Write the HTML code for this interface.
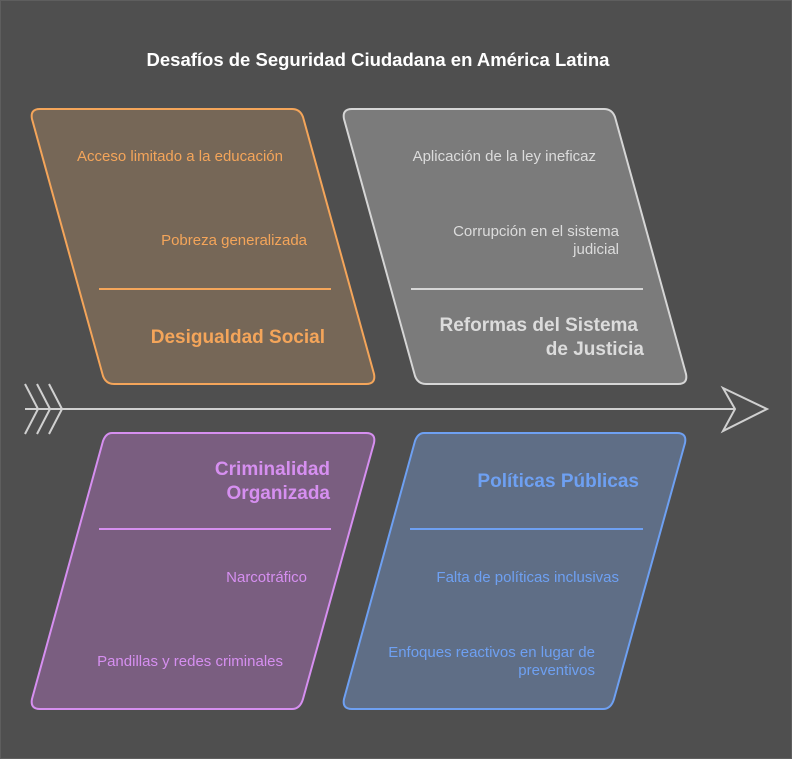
<!DOCTYPE html>
<html><head><meta charset="utf-8"><style>
html,body{margin:0;padding:0;background:#4f4f4f;}
svg{display:block;font-family:"Liberation Sans",sans-serif;}
</style></head><body>
<svg width="792" height="759" viewBox="0 0 792 759" xmlns="http://www.w3.org/2000/svg">
<rect x="0" y="0" width="792" height="759" fill="#4f4f4f"/>
<rect x="0.5" y="0.5" width="791" height="758" fill="none" stroke="#5e5e5e"/>
<text x="378" y="66" text-anchor="middle" font-size="18.5" font-weight="bold" fill="#ffffff">Desafíos de Seguridad Ciudadana en América Latina</text>

<path d="M40,109 L292,109 Q300,109 303,117 L374,374 Q376,384 366,384 L114,384 Q106,384 103,376 L32,119 Q30,109 40,109 Z" fill="#766757" stroke="#f4a55a" stroke-width="2"/>
<path d="M352,109 L604,109 Q612,109 615,117 L686,374 Q688,384 678,384 L426,384 Q418,384 415,376 L344,119 Q342,109 352,109 Z" fill="#7b7b7b" stroke="#d6d6d6" stroke-width="2"/>
<path d="M112,433 L366,433 Q376,433 374,443 L303,699 Q300,709 292,709 L40,709 Q30,709 32,699 L103,441 Q106,433 112,433 Z" fill="#7a5e80" stroke="#d68ff0" stroke-width="2"/>
<path d="M424,433 L677,433 Q687,433 685,443 L614,699 Q611,709 603,709 L352,709 Q342,709 344,699 L415,441 Q418,433 424,433 Z" fill="#5f6e86" stroke="#6ea0f2" stroke-width="2"/>

<line x1="99" y1="289" x2="331" y2="289" stroke="#f4a55a" stroke-width="2"/>
<line x1="411" y1="289" x2="643" y2="289" stroke="#d6d6d6" stroke-width="2"/>
<line x1="99" y1="529" x2="331" y2="529" stroke="#d68ff0" stroke-width="2"/>
<line x1="410" y1="529" x2="643" y2="529" stroke="#6ea0f2" stroke-width="2"/>

<line x1="25" y1="409" x2="735" y2="409" stroke="#d0d0d0" stroke-width="2"/>
<path d="M723,388 L767,409 L723,431 L735,409 Z" fill="none" stroke="#d0d0d0" stroke-width="2" stroke-linejoin="miter"/>
<g fill="none" stroke="#d0d0d0" stroke-width="2">
<path d="M25,384 L38,409 L25,434"/>
<path d="M37,384 L50,409 L37,434"/>
<path d="M49,384 L62,409 L49,434"/>
</g>

<g font-size="15">
<text x="283" y="161" text-anchor="end" fill="#f4a55a">Acceso limitado a la educación</text>
<text x="307" y="245" text-anchor="end" fill="#f4a55a">Pobreza generalizada</text>
<text x="325" y="343" text-anchor="end" font-size="19" font-weight="bold" fill="#f4a55a">Desigualdad Social</text>

<text x="596" y="161" text-anchor="end" fill="#dcdcdc">Aplicación de la ley ineficaz</text>
<text x="619" y="236" text-anchor="end" fill="#dcdcdc">Corrupción en el sistema</text>
<text x="619" y="254" text-anchor="end" fill="#dcdcdc">judicial</text>
<text x="638" y="331" text-anchor="end" font-size="19" font-weight="bold" fill="#dcdcdc">Reformas del Sistema</text>
<text x="644" y="355" text-anchor="end" font-size="19" font-weight="bold" fill="#dcdcdc">de Justicia</text>

<text x="330" y="475" text-anchor="end" font-size="19" font-weight="bold" fill="#d68ff0">Criminalidad</text>
<text x="330" y="499" text-anchor="end" font-size="19" font-weight="bold" fill="#d68ff0">Organizada</text>
<text x="307" y="582" text-anchor="end" fill="#d68ff0">Narcotráfico</text>
<text x="283" y="666" text-anchor="end" fill="#d68ff0">Pandillas y redes criminales</text>

<text x="639" y="487" text-anchor="end" font-size="19" font-weight="bold" fill="#6ea0f2">Políticas Públicas</text>
<text x="619" y="582" text-anchor="end" fill="#6ea0f2">Falta de políticas inclusivas</text>
<text x="595" y="657" text-anchor="end" fill="#6ea0f2">Enfoques reactivos en lugar de</text>
<text x="595" y="675" text-anchor="end" fill="#6ea0f2">preventivos</text>
</g>
</svg>
</body></html>
